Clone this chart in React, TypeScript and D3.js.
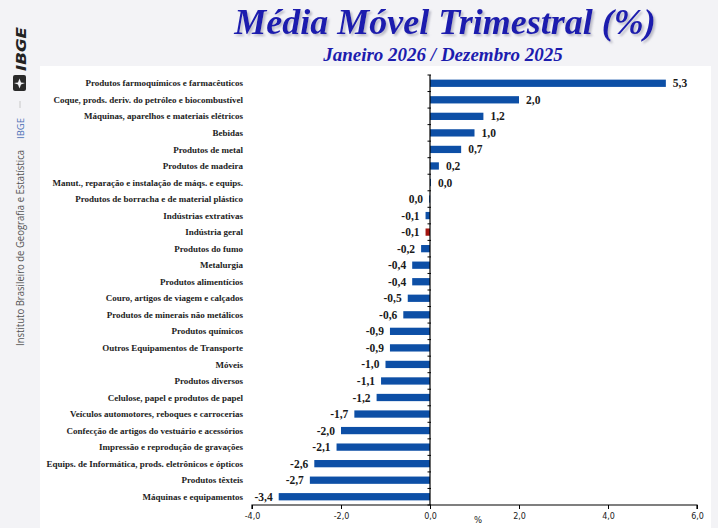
import React, { useEffect, useRef } from 'react';
import * as d3 from 'd3';

const categories = [
  'Produtos farmoquímicos e farmacêuticos',
  'Coque, prods. deriv. do petróleo e biocombustível',
  'Máquinas, aparelhos e materiais elétricos',
  'Bebidas',
  'Produtos de metal',
  'Produtos de madeira',
  'Manut., reparação e instalação de máqs. e equips.',
  'Produtos de borracha e de material plástico',
  'Indústrias extrativas',
  'Indústria geral',
  'Produtos do fumo',
  'Metalurgia',
  'Produtos alimentícios',
  'Couro, artigos de viagem e calçados',
  'Produtos de minerais não metálicos',
  'Produtos químicos',
  'Outros Equipamentos de Transporte',
  'Móveis',
  'Produtos diversos',
  'Celulose, papel e produtos de papel',
  'Veículos automotores, reboques e carrocerias',
  'Confecção de artigos do vestuário e acessórios',
  'Impressão e reprodução de gravações',
  'Equips. de Informática, prods. eletrônicos e ópticos',
  'Produtos têxteis',
  'Máquinas e equipamentos',
];

// values as plotted (the two 0,0 rows are tiny +/- values)
const values = [
  5.3, 2.0, 1.2, 1.0, 0.7, 0.2, 0.02, -0.02, -0.1, -0.1, -0.2, -0.4, -0.4,
  -0.5, -0.6, -0.9, -0.9, -1.0, -1.1, -1.2, -1.7, -2.0, -2.1, -2.6, -2.7, -3.4,
];

const xTicks = [-4, -2, 0, 2, 4, 6];
const highlight = 'Indústria geral';

const W = 718;
const H = 528;

export default function App() {
  const ref = useRef<SVGSVGElement>(null);

  useEffect(() => {
    if (!ref.current) return;
    const svg = d3.select(ref.current);
    svg.selectAll('*').remove();

    const fmt = (v: number) => v.toFixed(1).replace('.', ',').replace('-0,0', '0,0');

    // title shadow
    svg.append('defs').append('filter').attr('id', 'tshadow')
      .append('feDropShadow')
      .attr('dx', 2).attr('dy', 2).attr('stdDeviation', 0.8)
      .attr('flood-color', '#8a8aa0').attr('flood-opacity', 0.55);

    // background
    svg.append('rect').attr('width', W).attr('height', H).attr('fill', '#f3f3f6');
    svg.append('rect').attr('x', 40).attr('y', 66).attr('width', 671).attr('height', H - 66).attr('fill', '#ffffff');

    // titles
    const title = svg.append('g').attr('font-family', 'Liberation Serif').attr('font-weight', 'bold').attr('font-style', 'italic').attr('text-anchor', 'middle');
    title.append('text').attr('x', 445).attr('y', 34).attr('font-size', 36).attr('fill', '#1c1cae').attr('filter', 'url(#tshadow)').text('Média Móvel Trimestral (%)');
    title.append('text').attr('x', 443).attr('y', 61).attr('font-size', 19).attr('fill', '#1c1cae').text('Janeiro 2026 / Dezembro 2025');

    // left side branding
    const side = svg.append('g');
    side.append('text')
      .attr('transform', 'translate(26,71) rotate(-90)')
      .attr('font-family', 'DejaVu Sans').attr('font-weight', 'bold').attr('font-style', 'italic')
      .attr('font-size', 14).attr('fill', '#222')
      .attr('textLength', 44).attr('lengthAdjust', 'spacingAndGlyphs')
      .text('IBGE');
    side.append('rect').attr('x', 13).attr('y', 75).attr('width', 13).attr('height', 16).attr('rx', 2).attr('fill', '#2a2a2a');
    side.append('path').attr('d', 'M19.5,78.5 L21,82.5 L25,83 L21,84.5 L19.5,88.5 L18,84.5 L14,83 L18,82.5 Z').attr('fill', '#f3f3f6');
    side.append('line').attr('x1', 20).attr('x2', 20).attr('y1', 101).attr('y2', 108).attr('stroke', '#c8c8c8');
    side.append('text')
      .attr('transform', 'translate(24,139) rotate(-90)')
      .attr('font-family', 'Open Sans').attr('font-size', 9.5).attr('fill', '#4a6fb5')
      .text('IBGE');
    side.append('text')
      .attr('transform', 'translate(24,346) rotate(-90)')
      .attr('font-family', 'Open Sans').attr('font-size', 10).attr('fill', '#555')
      .attr('textLength', 196).attr('lengthAdjust', 'spacingAndGlyphs')
      .text('Instituto Brasileiro de Geografia e Estatística');

    // scales
    const x = d3.scaleLinear().domain([-4, 6]).range([252, 697]);
    const y = d3.scaleBand<string>().domain(categories).range([75, 505]).paddingInner(0.56).paddingOuter(0.28);
    const step = y.step();

    const data = categories.map((c, i) => ({ c, v: values[i] }));

    // bars
    svg.append('g').selectAll('rect').data(data).enter().append('rect')
      .attr('x', d => x(Math.min(0, d.v)))
      .attr('y', d => y(d.c)!)
      .attr('width', d => Math.max(1, Math.abs(x(d.v) - x(0))))
      .attr('height', y.bandwidth())
      .attr('fill', d => (d.c === highlight ? '#a3150f' : '#0d4fa6'));

    // value labels
    svg.append('g').selectAll('text').data(data).enter().append('text')
      .attr('x', d => (d.v >= 0 ? x(d.v) + 7 : x(d.v) - 6))
      .attr('y', d => y(d.c)! + y.bandwidth() / 2)
      .attr('dy', '0.35em')
      .attr('text-anchor', d => (d.v >= 0 ? 'start' : 'end'))
      .attr('font-family', 'Liberation Serif').attr('font-weight', 'bold')
      .attr('font-size', 11.5).attr('fill', '#1a1a1a')
      .text(d => fmt(d.v));

    // category labels
    svg.append('g').selectAll('text').data(data).enter().append('text')
      .attr('x', 243)
      .attr('y', d => y(d.c)! + y.bandwidth() / 2)
      .attr('dy', '0.35em')
      .attr('text-anchor', 'end')
      .attr('font-family', 'Liberation Serif').attr('font-weight', 'bold')
      .attr('font-size', 9).attr('fill', '#222')
      .text(d => d.c);

    // vertical axis at zero with ticks at band boundaries
    const vax = svg.append('g');
    vax.append('line').attr('x1', x(0)).attr('x2', x(0)).attr('y1', 75).attr('y2', 505).attr('stroke', '#000').attr('stroke-width', 1.2);
    vax.selectAll('line.t').data(d3.range(categories.length + 1)).enter().append('line')
      .attr('class', 't')
      .attr('x1', x(0) - 2.5).attr('x2', x(0) + 1)
      .attr('y1', i => 75 + i * step).attr('y2', i => 75 + i * step)
      .attr('stroke', '#000');

    // horizontal axis
    const xAxis = d3.axisBottom(x).tickValues(xTicks).tickSize(4).tickFormat(d => fmt(d as number));
    const gx = svg.append('g').attr('transform', 'translate(0,505)').call(xAxis);
    gx.select('.domain').attr('stroke', '#000').attr('stroke-width', 1.2).attr('d', `M${x(-4)},4V0H${x(6)}V4`);
    gx.selectAll('.tick line').attr('stroke', '#000');
    gx.selectAll('.tick text').attr('font-family', 'DejaVu Sans').attr('font-size', 8).attr('fill', '#222').attr('dy', '0.9em');

    svg.append('text').attr('x', 478).attr('y', 523).attr('text-anchor', 'middle')
      .attr('font-family', 'DejaVu Sans').attr('font-size', 8.5).attr('fill', '#222').text('%');
  }, []);

  return <svg ref={ref} width={W} height={H} style={{ position: 'fixed', left: 0, top: 0 }} />;
}
